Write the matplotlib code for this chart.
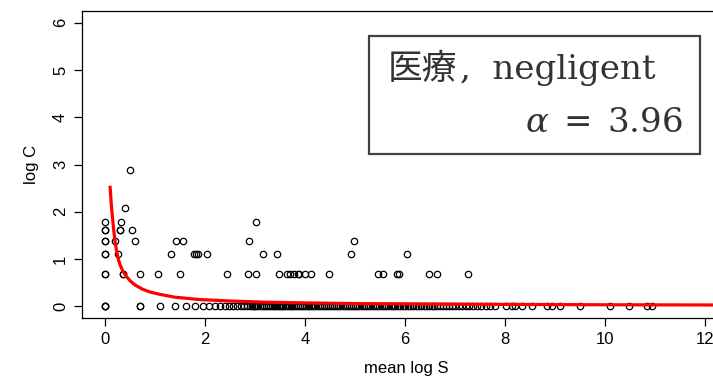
import numpy as np
import matplotlib
matplotlib.use("Agg")
from matplotlib import pyplot as plt
from matplotlib.patches import Rectangle

# mean log S of the points, one list per log C level
x_c1 = [0, 0, 0, 0.69, 0.69, 1.10, 1.39, 1.61, 1.79, 1.95, 2.08, 2.20, 2.30, 2.40, 2.48,
        2.56, 2.64, 2.71, 2.77, 2.83, 2.89, 2.94, 2.97, 3.00, 3.04, 3.09, 3.13, 3.18,
        3.22, 3.26, 3.30, 3.33, 3.37, 3.40, 3.43, 3.47, 3.50, 3.53, 3.56, 3.60, 3.64,
        3.67, 3.71, 3.74, 3.78, 3.81, 3.85, 3.89, 3.93, 3.97, 4.01, 4.05, 4.08, 4.12,
        4.16, 4.20, 4.25, 4.29, 4.33, 4.37, 4.41, 4.46, 4.50, 4.54, 4.58, 4.62, 4.66,
        4.70, 4.75, 4.79, 4.83, 4.87, 4.91, 4.95, 5.00, 5.04, 5.08, 5.13, 5.17, 5.21,
        5.25, 5.30, 5.35, 5.40, 5.44, 5.48, 5.53, 5.58, 5.62, 5.66, 5.71, 5.76, 5.80,
        5.85, 5.90, 5.95, 6.00, 6.05, 6.10, 6.16, 6.21, 6.26, 6.31, 6.37, 6.42, 6.47,
        6.53, 6.58, 6.64, 6.70, 6.76, 6.82, 6.88, 6.94, 7.00, 7.07, 7.14, 7.21, 7.28,
        7.36, 7.44, 7.52, 7.61, 7.70, 7.80, 8.03, 8.13, 8.20, 8.33, 8.53, 8.83, 8.93,
        9.10, 9.49, 10.09, 10.47, 10.83, 10.93]
x_c2 = [0, 0, 0.35, 0.35, 0.70, 1.05, 1.50, 2.43, 2.86, 3.01, 3.48, 3.63, 3.70, 3.78,
        3.85, 3.87, 4.00, 4.12, 4.47, 5.45, 5.55, 5.83, 5.88, 6.48, 6.63, 7.25]
x_c3 = [0, 0, 0.25, 1.31, 1.77, 1.81, 1.85, 2.03, 3.15, 3.43, 4.92, 6.03]
x_c4 = [0, 0, 0.19, 0.59, 1.41, 1.55, 2.87, 4.98]
x_c5 = [0, 0, 0.29, 0.29, 0.54]
x_c6 = [0, 0.31, 3.01]
x_c8 = [0.40]
x_c18 = [0.49]
levels = [0.0, 0.69, 1.10, 1.39, 1.61, 1.79, 2.08, 2.89]

# fitted curve
fit_x = [0.10, 0.13, 0.17, 0.20, 0.23, 0.27, 0.30, 0.35, 0.42, 0.50, 0.60, 0.75,
         0.90, 1.10, 1.40, 1.90, 2.50, 3.20, 4.00, 5.00, 6.50, 8.00, 10.0, 12.6]
fit_y = [2.55, 2.10, 1.65, 1.38, 1.18, 0.98, 0.88, 0.76, 0.64, 0.54, 0.45, 0.36,
         0.30, 0.25, 0.19, 0.14, 0.11, 0.085, 0.07, 0.055, 0.045, 0.038, 0.03, 0.025]

W, H = 713, 377
fig = plt.figure(figsize=(W / 100, H / 100), dpi=100)
plt.rcParams['font.family'] = ['Liberation Sans', 'DejaVu Sans']
plt.rcParams['mathtext.fontset'] = 'dejavuserif'

ax = fig.add_axes([82 / W, 1 - 318 / H, (730 - 82) / W, (318 - 11) / H])
rows = [x_c1, x_c2, x_c3, x_c4, x_c5, x_c6, x_c8, x_c18]
for xs, lev in zip(rows, levels):
    ax.plot(xs, [lev] * len(xs), 'o', ms=4.6, mfc='none', mec='black', mew=0.9)
ax.plot(fit_x, fit_y, color='#ff0000', lw=2.3, solid_capstyle='butt')

ax.set_xlim(-0.46, 12.5)
ax.set_ylim(-0.25, 6.25)
ax.set_xticks([0, 2, 4, 6, 8, 10, 12])
ax.set_yticks([0, 1, 2, 3, 4, 5, 6])
ax.tick_params(length=6, width=0.9, labelsize=12, pad=4)
for lab in ax.get_yticklabels():
    lab.set_rotation(90)
    lab.set_va('center')
for s in ax.spines.values():
    s.set_linewidth(0.9)
ax.set_xlabel('mean log S', fontsize=12, labelpad=10)
ax.set_ylabel('log C', fontsize=12, labelpad=10)

# legend-like box
fig.patches.append(Rectangle((369 / W, 1 - 154 / H), (700 - 369) / W, (154 - 36) / H,
                             transform=fig.transFigure, fill=False,
                             edgecolor='#404040', lw=1.6))
fig.text(388 / W, 1 - 79 / H, '医療', family=['Noto Sans CJK JP'], fontsize=25,
         color='#333333', va='baseline')
fig.text(460 / W, 1 - 79 / H, ',  negligent', family=['DejaVu Serif'], fontsize=24.5,
         color='#333333', va='baseline')
fig.text(683 / W, 1 - 132 / H, r'$\alpha\;=\;3.96$', fontsize=24.5,
         color='#333333', va='baseline', ha='right')

fig.savefig('out.png', dpi=100)
